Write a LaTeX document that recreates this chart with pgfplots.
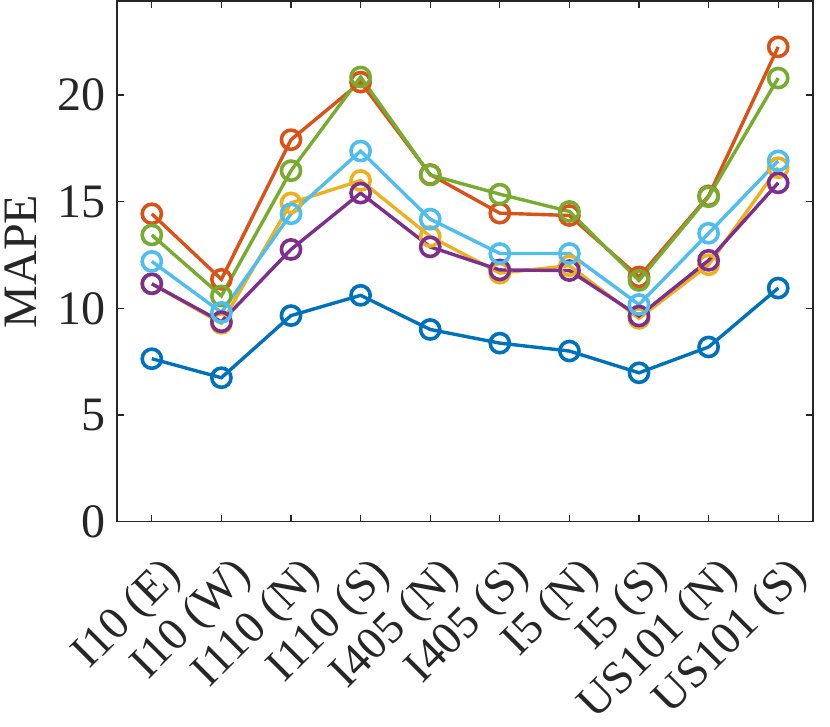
\documentclass[border=0pt]{standalone}
\usepackage{pgfplots}
\pgfplotsset{compat=1.18}
\usepackage{fontspec}
\setmainfont{Liberation Serif}
\definecolor{c1}{rgb}{0,0.447,0.741}
\definecolor{c2}{rgb}{0.850,0.325,0.098}
\definecolor{c3}{rgb}{0.929,0.694,0.125}
\definecolor{c4}{rgb}{0.494,0.184,0.556}
\definecolor{c5}{rgb}{0.466,0.674,0.188}
\definecolor{c6}{rgb}{0.301,0.745,0.933}
\definecolor{axgray}{rgb}{0.15,0.15,0.15}
\begin{document}
\begin{tikzpicture}
\begin{axis}[
  scale only axis,
  width=348pt, height=260.4pt,
  xmin=0.5, xmax=10.5, ymin=0, ymax=24.4,
  xtick={1,...,10},
  xticklabels={I10 (E),I10 (W),I110 (N),I110 (S),I405 (N),I405 (S),I5 (N),I5 (S),US101 (N),US101 (S)},
  ytick={0,5,10,15,20},
  tick align=inside,
  major tick length=3.5pt,
  axis line style={axgray, line width=0.6pt},
  every tick/.style={axgray, line width=0.6pt},
  tick label style={font=\fontsize{24}{24}\selectfont, text=axgray},
  x tick label style={font=\fontsize{23}{23}\selectfont, anchor=north east, inner sep=0pt, xshift=4pt, yshift=-16pt, rotate=45},
  y tick label style={xshift=-2pt},
  /pgf/number format/assume math mode=true,
  ylabel={MAPE},
  ylabel style={font=\fontsize{24}{24}\selectfont, text=axgray, at={(axis description cs:-0.115,0.5)}, anchor=south, inner sep=0pt},
  every axis plot/.append style={line width=1.7pt, mark=o, mark size=4.8pt, mark options={line width=1.8pt}},
  clip=false,
]
\addplot[c1] coordinates {(1,7.64)(2,6.75)(3,9.66)(4,10.61)(5,9.01)(6,8.37)(7,8.00)(8,6.98)(9,8.19)(10,10.95)};
\addplot[c2] coordinates {(1,14.43)(2,11.36)(3,17.90)(4,20.60)(5,16.27)(6,14.46)(7,14.35)(8,11.47)(9,15.27)(10,22.25)};
\addplot[c3] coordinates {(1,11.15)(2,9.30)(3,14.94)(4,15.99)(5,13.37)(6,11.65)(7,12.00)(8,9.53)(9,12.04)(10,16.59)};
\addplot[c4] coordinates {(1,11.15)(2,9.37)(3,12.76)(4,15.40)(5,12.88)(6,11.80)(7,11.77)(8,9.64)(9,12.25)(10,15.88)};
\addplot[c5] coordinates {(1,13.44)(2,10.58)(3,16.45)(4,20.84)(5,16.25)(6,15.35)(7,14.54)(8,11.31)(9,15.23)(10,20.79)};
\addplot[c6] coordinates {(1,12.20)(2,9.81)(3,14.43)(4,17.37)(5,14.18)(6,12.57)(7,12.57)(8,10.18)(9,13.52)(10,16.91)};
\end{axis}
\pgfresetboundingbox
\path[use as bounding box] ([xshift=-58.5pt,yshift=-102.2pt]current axis.south west) rectangle ([xshift=8.5pt,yshift=0.5pt]current axis.north east);
\end{tikzpicture}
\end{document}
